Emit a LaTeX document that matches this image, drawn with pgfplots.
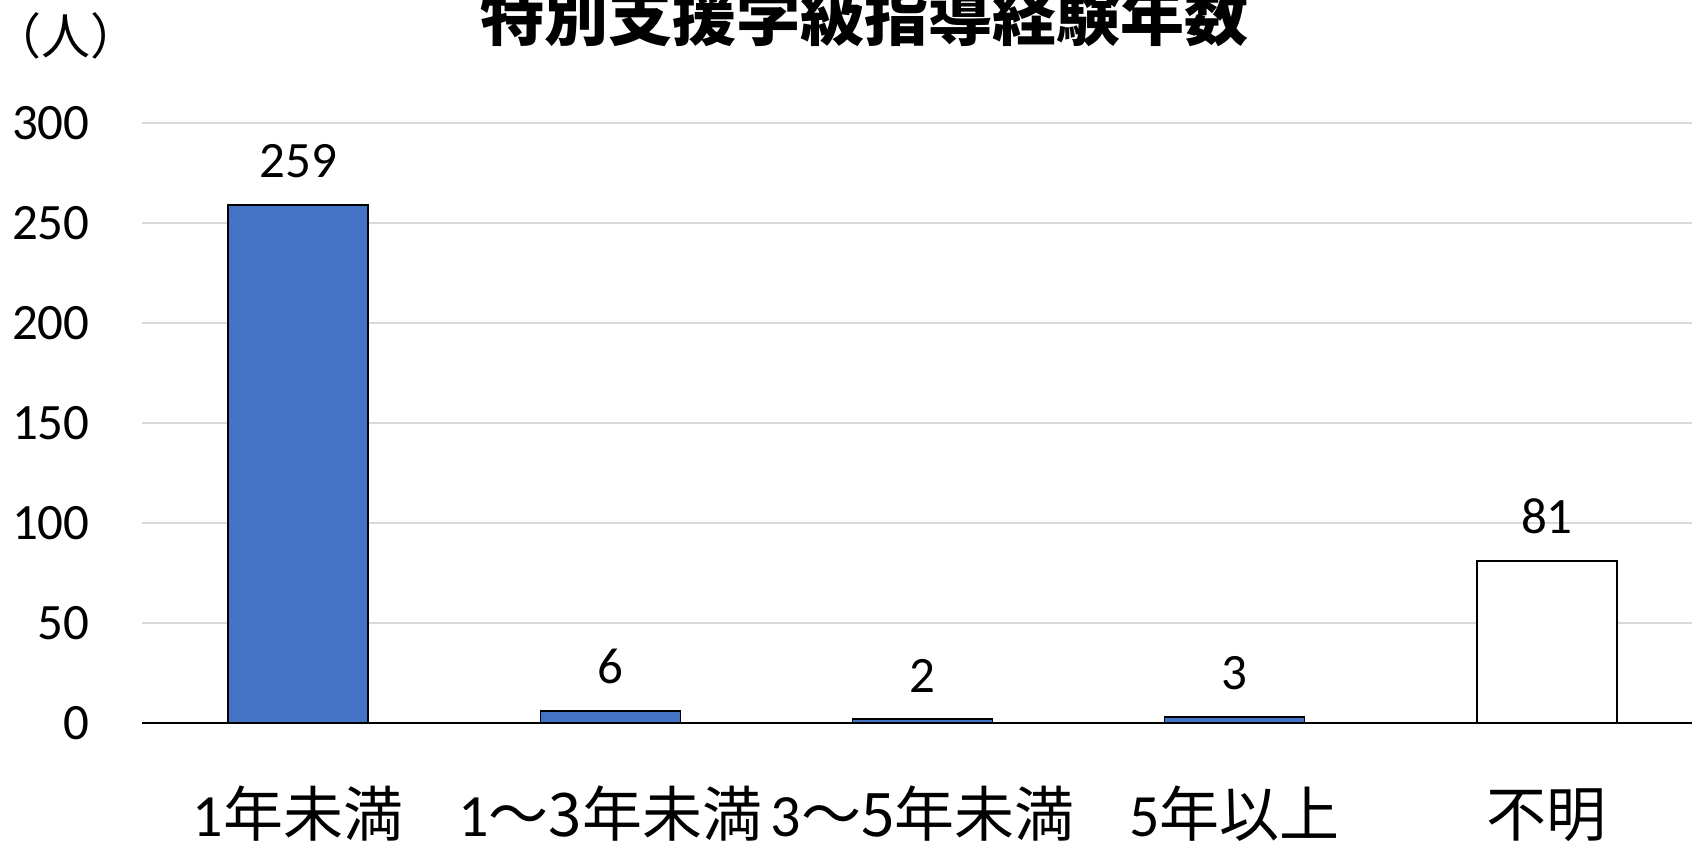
\documentclass[border=0pt]{standalone}
\usepackage{fontspec}
\usepackage{pgfplots}
\pgfplotsset{compat=1.18}
\setmainfont{Carlito}
\newfontfamily\cjk{Noto Sans CJK JP}
\definecolor{barblue}{HTML}{4472C4}
\definecolor{gridgray}{HTML}{D9D9D9}
\begin{document}
\begin{tikzpicture}
\useasboundingbox (0,0) rectangle (846pt,422.5pt);
\clip (0,0) rectangle (846pt,422.5pt);
\begin{axis}[
    at={(71pt,61pt)}, anchor=south west,
    scale only axis,
    width=780.5pt, height=300pt,
    xmin=-0.5, xmax=4.5,
    ymin=0, ymax=300,
    ybar, bar width=70pt,
    axis line style={draw=none},
    major tick length=0pt,
    ytick={0,50,...,300},
    ymajorgrids, grid style={gridgray, line width=0.75pt},
    xtick={0,1,2,3,4},
    xticklabels={{1\cjk{年未満}},{1\cjk{～}3\cjk{年未満}},{3\cjk{～}5\cjk{年未満}},{5\cjk{年以上}},{\cjk{不明}}},
    xticklabel style={font=\fontsize{30pt}{36pt}\selectfont, anchor=base, inner sep=0pt, yshift=-57pt},
    yticklabel style={font=\fontsize{25.5pt}{30pt}\selectfont, anchor=east, inner sep=0pt, xshift=-26pt},
    /pgf/number format/assume math mode=true,
    nodes near coords,
    every node near coord/.append style={font=\fontsize{25.5pt}{30pt}\selectfont, anchor=south, inner sep=0pt, yshift=13pt, black},
    clip=false,
]
\addplot[draw=black, line width=0.75pt, fill=barblue, bar shift=0pt] coordinates {(0,259) (1,6) (2,2) (3,3)};
\addplot[draw=black, line width=0.75pt, fill=white, bar shift=0pt] coordinates {(4,81)};
\draw[black, line width=1pt] (axis cs:-0.5,0) -- (axis cs:4.5,0);
\end{axis}
\node[anchor=base, inner sep=0pt, font=\cjk\bfseries\fontsize{32pt}{38pt}\selectfont] at (432pt,402pt) {特別支援学級指導経験年数};
\node[anchor=center, inner sep=0pt, font=\cjk\fontsize{24.5pt}{28pt}\selectfont] at (33pt,404.5pt) {（人）};
\end{tikzpicture}
\end{document}
